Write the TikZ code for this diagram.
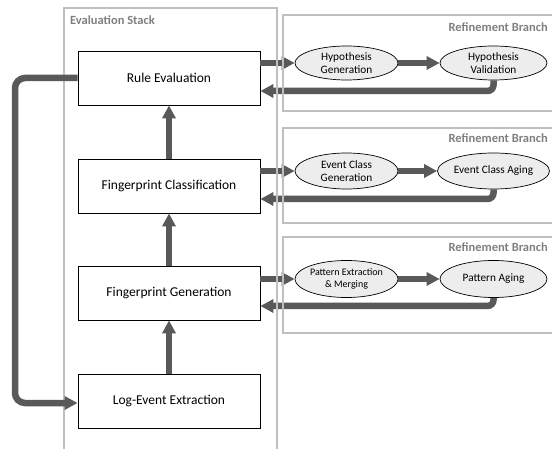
\documentclass[tikz,border=0pt]{standalone}
\usepackage{fontspec}
\setmainfont{Carlito}
\usetikzlibrary{arrows.meta}
\definecolor{flowc}{HTML}{595959}
\definecolor{framec}{HTML}{BFBFBF}
\definecolor{labelc}{HTML}{7F7F7F}
\definecolor{ellc}{HTML}{EDEDED}
\tikzset{
  stepbox/.style={draw=black, line width=0.8pt, fill=white, minimum width=182pt, minimum height=54pt, inner sep=0pt, font=\fontsize{13.5}{15}\selectfont},
  elbox/.style={ellipse, draw=black, line width=0.7pt, fill=ellc, inner sep=0pt, align=center, font=\fontsize{11.3}{13}\selectfont},
  flow/.style={draw=flowc, line width=6.5pt, -{Triangle[length=13pt,width=13pt]}, rounded corners=6pt},
  frame/.style={draw=framec, line width=2.5pt},
  framelabel/.style={text=labelc, font=\bfseries\fontsize{12.5}{14}\selectfont, inner sep=0pt},
}
\usetikzlibrary{shapes.geometric}
\begin{document}
\begin{tikzpicture}[x=1pt, y=-1pt]
\useasboundingbox (0,0) rectangle (552,449);
% stack boxes
\node[stepbox] (rule) at (169,78) {Rule Evaluation};
\node[stepbox] (cls) at (169,186) {Fingerprint Classification};
\node[stepbox] (gen) at (169,293) {Fingerprint Generation};
\node[stepbox] (log) at (169,401) {Log-Event Extraction};
% ellipses
\node[elbox, minimum width=103pt, minimum height=34pt] (hg) at (346.5,63) {Hypothesis\\Generation};
\node[elbox, minimum width=107pt, minimum height=34pt] (hv) at (493.5,63) {Hypothesis\\Validation};
\node[elbox, minimum width=103pt, minimum height=36pt] (eg) at (346.5,171) {Event Class\\Generation};
\node[elbox, minimum width=107pt, minimum height=36pt] (ea) at (493.5,171) {Event Class Aging};
\node[elbox, minimum width=103pt, minimum height=37pt, font=\fontsize{10}{12}\selectfont] (pe) at (346.5,279) {Pattern Extraction\\\& Merging};
\node[elbox, minimum width=107pt, minimum height=37pt] (pa) at (493.5,279) {Pattern Aging};
% right-side arrows
\draw[flow] (rule.east |- hg.west) -- (hg.west);
\draw[flow] (hg.east) -- (hv.west);
\draw[flow] (hv.south) |- ([yshift=-13pt]rule.east);
\draw[flow] (cls.east |- eg.west) -- (eg.west);
\draw[flow] (eg.east) -- (ea.west);
\draw[flow] (ea.south) |- ([yshift=-13pt]cls.east);
\draw[flow] (gen.east |- pe.west) -- (pe.west);
\draw[flow] (pe.east) -- (pa.west);
\draw[flow] (pa.south) |- ([yshift=-13pt]gen.east);
% frames
\draw[frame] (64,452) -- (64,8) -- (277,8) -- (277,452);
\node[framelabel, anchor=west] (es) at (70,20) {Evaluation Stack};
\draw[frame] (556,15) -- (283,15) -- (283,111) -- (556,111);
\draw[frame] (556,128) -- (283,128) -- (283,223) -- (556,223);
\draw[frame] (556,237) -- (283,237) -- (283,333) -- (556,333);
\node[framelabel, anchor=east] (rb1) at (548,27) {Refinement Branch};
\node[framelabel, anchor=east] (rb2) at (548,138) {Refinement Branch};
\node[framelabel, anchor=east] (rb3) at (548,247) {Refinement Branch};
% left loop
\coordinate (lp1) at (15,78);
\coordinate (lp2) at (15,403);
\draw[flow, rounded corners=10pt] (rule.west) -- (lp1) -- (lp2) -- (log.west |- lp2);
% vertical arrows
\draw[flow] (log.north) -- (gen.south);
\draw[flow] (gen.north) -- (cls.south);
\draw[flow] (cls.north) -- (rule.south);
\end{tikzpicture}
\end{document}
